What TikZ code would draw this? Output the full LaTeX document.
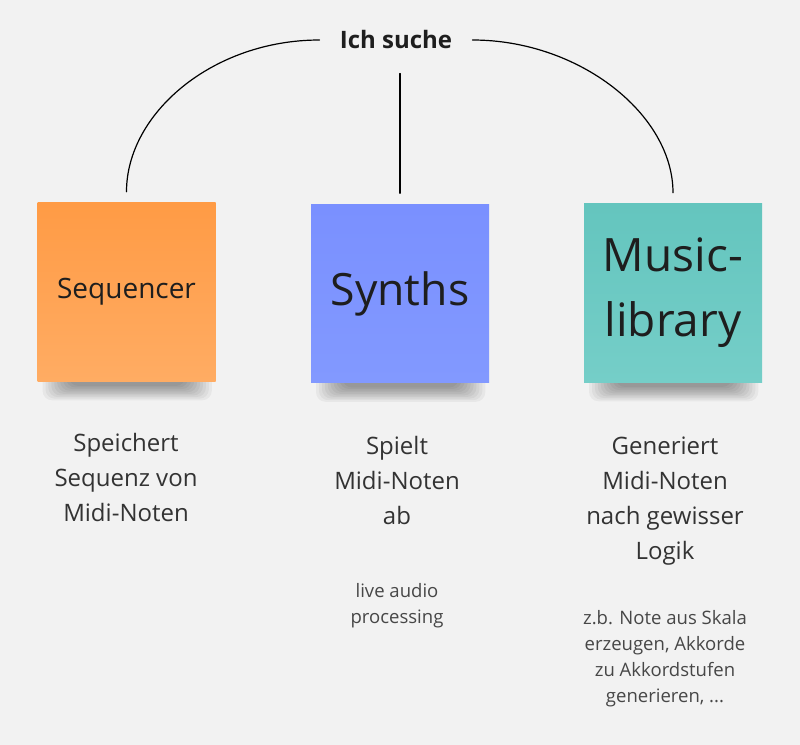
\documentclass[tikz,border=0pt]{standalone}
\usepackage{fontspec}
\setmainfont{Open Sans}
\usetikzlibrary{backgrounds}
\definecolor{paper}{HTML}{F2F2F2}
\definecolor{ink}{HTML}{1E1E1E}
\definecolor{txt}{HTML}{333333}
\definecolor{orangeA}{HTML}{FF9B45}
\definecolor{orangeB}{HTML}{FFAC63}
\definecolor{blueA}{HTML}{7A90FF}
\definecolor{blueB}{HTML}{8299FF}
\definecolor{tealA}{HTML}{64C5BE}
\definecolor{tealB}{HTML}{75CEC8}

\begin{document}
\begin{tikzpicture}[x=0.75pt,y=-0.75pt,line cap=round,line join=round,every node/.style={inner sep=1pt},
  note/.style={minimum width=133.5pt,minimum height=134pt,text=ink,align=center},
  link/.style={line width=0.9pt,black},
  desc/.style={text=txt,align=center,font=\fontsize{18}{26.25}\selectfont},
  small/.style={text=txt!90,align=center,font=\fontsize{13.9}{19.5}\selectfont}]
  \useasboundingbox (0,0) rectangle (800,745);
  % sticky notes
  \node[note,top color=orangeA,bottom color=orangeB,font=\fontsize{21}{25}\selectfont] (seq) at (126.5,292) {Sequencer};
  \node[note,top color=blueA,bottom color=blueB,font=\fontsize{33.4}{40}\selectfont] (syn) at (400,293.5) {Synths};
  \node[note,top color=tealA,bottom color=tealB,font=\fontsize{34.5}{48.75}\selectfont] (lib) at (673,293) {Music-\\library};
  \node[font=\fontsize{18}{22}\bfseries,text=ink,inner xsep=15pt] (title) at (396,40) {Ich suche};
  % connectors
  \draw[link,shorten >=8pt] (title.west) .. controls +(-107,0) and +(0,-89) .. (seq.north);
  \draw[link,shorten >=8pt] (title.east) .. controls +(107,0) and +(0,-89) .. (lib.north);
  \draw[link,shorten <=17pt,shorten >=8pt] (syn.north |- title.south) -- (syn.north);
  % texts below
  \node[desc] (seqtext) at (126,477) {Speichert\\Sequenz von\\Midi-Noten};
  \node[desc] (syntext) at (397,480) {Spielt\\Midi-Noten\\ab};
  \node[desc] (libtext) at (665,501.5) {Generiert\\Midi-Noten\\nach gewisser\\Logik};
  \node[small] (synnote) at (397,606) {live audio\\processing};
  \node[small] (libnote) at (665,658.5) {z.b. Note aus Skala\\erzeugen, Akkorde\\zu Akkordstufen\\generieren, ...};
  \begin{scope}[on background layer]
    \fill[paper] (0,0) rectangle (800,745);
    \foreach \n in {seq,syn,lib}
      \foreach \i in {0,...,9}
        \fill[black,opacity=0.042,rounded corners=7pt] ([xshift={4pt+2.2pt*\i},yshift=10pt]\n.south west) rectangle ([xshift={-3pt-2.2pt*\i},yshift={-14pt+1.2pt*\i}]\n.south east);
  \end{scope}
\end{tikzpicture}
\end{document}
